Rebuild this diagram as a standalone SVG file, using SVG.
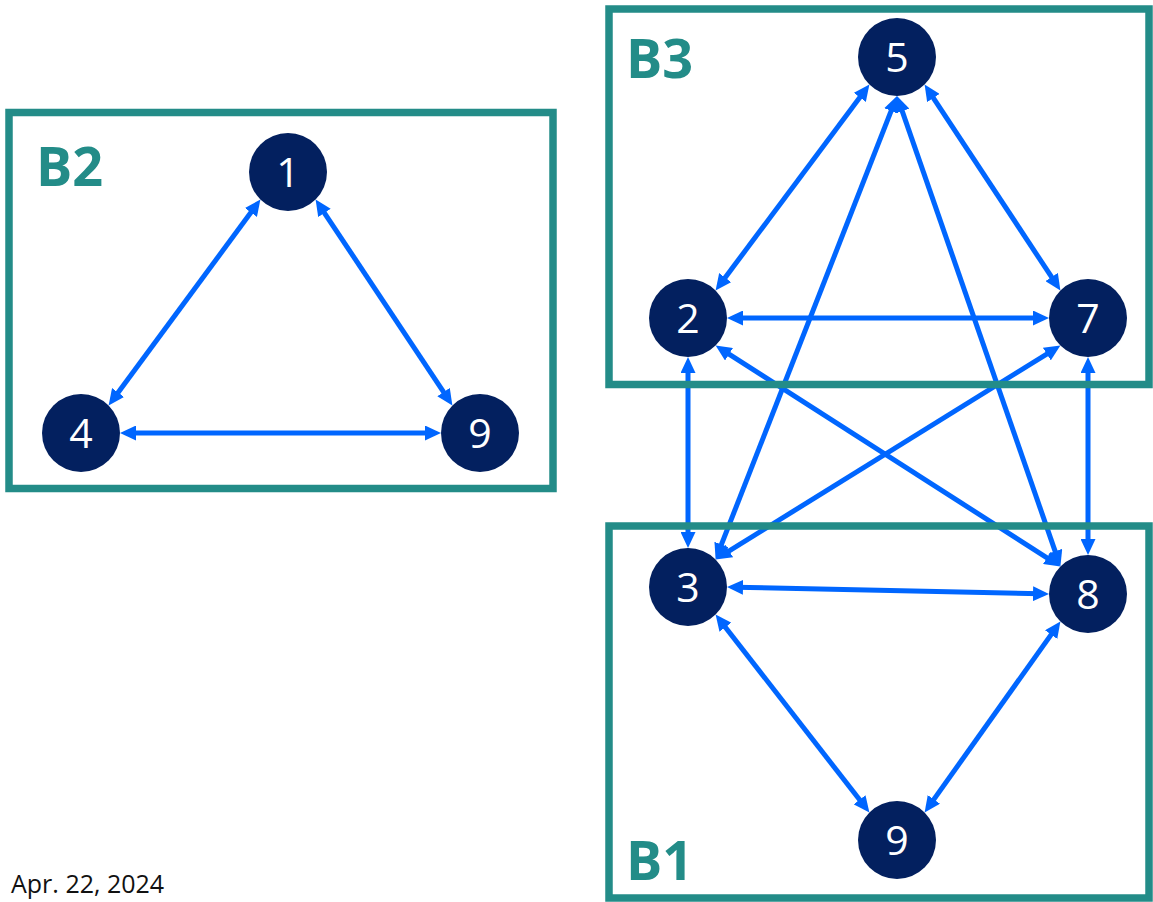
<svg xmlns="http://www.w3.org/2000/svg" width="1153" height="902" viewBox="0 0 1153 902">
  <style>
    .edge { stroke: #0066FF; stroke-width: 5; fill: none; marker-start: url(#head); marker-end: url(#head); }
    .box { fill: none; stroke: #238C88; stroke-width: 7.5; }
    .blabel { font-family: "Open Sans", "Liberation Sans", sans-serif; font-weight: bold; font-size: 54px; fill: #238C88; }
    .node circle { fill: #03205F; }
    .node text { font-family: "Open Sans", "Liberation Sans", sans-serif; font-size: 41px; fill: #FFFFFF; text-anchor: middle; }
    .date { font-family: "Open Sans", "Liberation Sans", sans-serif; font-size: 25px; fill: #111111; }
  </style>
  <defs>
    <marker id="head" viewBox="0 0 16 15" markerWidth="16" markerHeight="15" refX="8" refY="7.5" markerUnits="userSpaceOnUse" orient="auto-start-reverse">
      <path d="M0,0 L16,7.5 L0,15 z" fill="#0066FF"/>
    </marker>
  </defs>
  <rect width="1153" height="902" fill="#FFFFFF"/>

  <!-- connectors -->
  <g id="connectors">
    <!-- B2 triangle -->
    <line class="edge" x1="255.65" y1="206.04" x2="113.35" y2="398.96"/>
    <line class="edge" x1="320.03" y1="206.26" x2="447.97" y2="398.74"/>
    <line class="edge" x1="128" y1="433" x2="433" y2="433"/>
    <!-- B3 / B1 mesh -->
    <line class="edge" x1="864.61" y1="91.01" x2="720.39" y2="283.99"/>
    <line class="edge" x1="929.01" y1="91.28" x2="1055.99" y2="283.72"/>
    <line class="edge" x1="735" y1="318" x2="1041" y2="318"/>
    <line class="edge" x1="894.08" y1="103.45" x2="718.52" y2="551.95"/>
    <line class="edge" x1="899.62" y1="103.56" x2="1057.78" y2="558.84"/>
    <line class="edge" x1="722.34" y1="349.91" x2="1053.66" y2="562.09"/>
    <line class="edge" x1="1053.6" y1="349.82" x2="722.4" y2="555.18"/>
    <line class="edge" x1="688" y1="365" x2="688" y2="540"/>
    <line class="edge" x1="1088" y1="365" x2="1088" y2="547"/>
    <line class="edge" x1="735" y1="587.17" x2="1041" y2="593.83"/>
    <line class="edge" x1="720.51" y1="620.91" x2="864.49" y2="806.09"/>
    <line class="edge" x1="1055.76" y1="628.12" x2="929.24" y2="805.88"/>
  </g>

  <!-- groups -->
  <g id="B2">
    <rect class="box" x="9" y="112.5" width="544" height="376"/>
    <text class="blabel" x="36" y="186">B2</text>
  </g>
  <g id="B3">
    <rect class="box" x="609" y="9" width="540" height="375.5"/>
    <text class="blabel" x="626" y="78">B3</text>
  </g>
  <g id="B1">
    <rect class="box" x="609" y="526" width="540" height="372"/>
    <text class="blabel" x="626" y="880">B1</text>
  </g>

  <!-- nodes -->
  <g id="n1" class="node"><circle cx="288" cy="172" r="39"/><text x="288" y="187">1</text></g>
  <g id="n4" class="node"><circle cx="81" cy="433" r="39"/><text x="81" y="448">4</text></g>
  <g id="n9a" class="node"><circle cx="480" cy="433" r="39"/><text x="480" y="448">9</text></g>
  <g id="n5" class="node"><circle cx="897" cy="57" r="39"/><text x="897" y="72">5</text></g>
  <g id="n2" class="node"><circle cx="688" cy="318" r="39"/><text x="688" y="333">2</text></g>
  <g id="n7" class="node"><circle cx="1088" cy="318" r="39"/><text x="1088" y="333">7</text></g>
  <g id="n3" class="node"><circle cx="688" cy="587" r="39"/><text x="688" y="602">3</text></g>
  <g id="n8" class="node"><circle cx="1088" cy="594" r="39"/><text x="1088" y="609">8</text></g>
  <g id="n9b" class="node"><circle cx="897" cy="840" r="39"/><text x="897" y="855">9</text></g>

  <text class="date" x="11" y="893">Apr. 22, 2024</text>
</svg>
